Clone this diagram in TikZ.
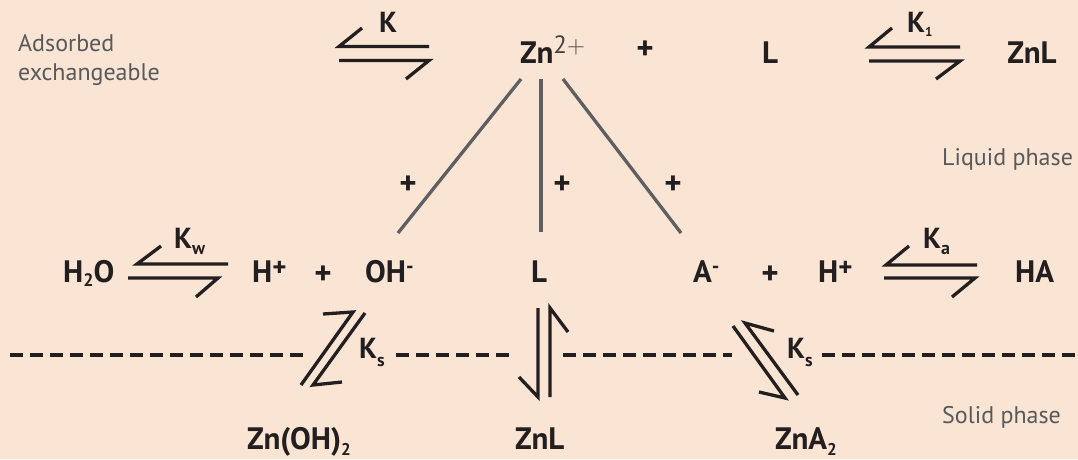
\documentclass[tikz,border=0pt]{standalone}
\usepackage{fontspec}
\setmainfont{PT Sans}
\definecolor{bgc}{RGB}{250,228,212}
\definecolor{ink}{RGB}{35,31,32}
\definecolor{soft}{RGB}{88,89,91}
\definecolor{bond}{RGB}{95,95,98}
\newcommand\lowr[3]{\raisebox{-#1pt}{\fontsize{#2}{#2}\selectfont #3}}
\newcommand\upr[3]{\raisebox{#1pt}{\fontsize{#2}{#2}\selectfont #3}}
\tikzset{
  lab/.style={font=\fontsize{31}{36}\selectfont\bfseries, text=ink, inner sep=0, anchor=base west},
  klab/.style={font=\fontsize{29}{34}\selectfont\bfseries, text=ink, inner sep=0, anchor=base west},
  plus/.style={font=\fontsize{33}{36}\selectfont\bfseries, text=ink, inner sep=0, anchor=center},
  note/.style={font=\fontsize{24}{29}\selectfont, text=soft, inner sep=0, anchor=base west},
  harp/.style={draw=ink, line width=3.3pt, line cap=butt, line join=miter},
  bondline/.style={draw=bond, line width=3.3pt},
  phaseline/.style={draw=ink, line width=3.8pt, dash pattern=on 12.5pt off 7.5pt}
}
\begin{document}
\begin{tikzpicture}[x=1pt,y=-1pt]
\useasboundingbox (0,0) rectangle (1078,459);
\fill[bgc] (0,0) rectangle (1078,459);

% notes
\node[note] (ads1) at (18,51) {Adsorbed};
\node[note] (ads2) at (18,80) {exchangeable};
\node[note] (liq) at (942,165) {Liquid phase};
\node[note] (sol) at (942,423) {Solid phase};

% top row
\node[lab] (zn) at (520,63) {Zn\upr{10}{25}{\mdseries\color{ink!85}$\mathrm{2+}$}};
\node[plus] (p1) at (645,50) {+};
\node[lab, anchor=base] (L1) at (770,63) {L};
\node[lab, anchor=base] (znl1) at (1032,63) {ZnL};
\node[klab] (K) at (379,32) {K};
\node[klab] (K1) at (907,32) {K\lowr{4}{13}{1}};

% top harpoons
\draw[harp] (362,28) -- (339,46.5) -- (429,46.5);
\draw[harp] (339,60.5) -- (429,60.5) -- (406,79);
\draw[harp] (892,28) -- (869,47) -- (960,47);
\draw[harp] (869,61) -- (960,61) -- (936,79);

% middle row
\node[lab] (h2o) at (63,282) {H\lowr{4}{18}{2}O};
\node[lab] (hp1) at (252,282) {H\upr{6}{27}{+}};
\node[plus] (p2) at (323,275) {+};
\node[lab] (oh) at (365,282) {OH\upr{9}{21}{-}};
\node[lab, anchor=base] (L2) at (539,282) {L};
\node[lab] (am) at (693,282) {A\upr{9}{21}{-}};
\node[plus] (p3) at (770,275) {+};
\node[lab] (hp2) at (818,282) {H\upr{6}{27}{+}};
\node[lab] (ha) at (1015,282) {HA};
\node[klab] (Kw) at (174,248) {K\lowr{6}{18}{w}};
\node[klab] (Ka) at (923,248) {K\lowr{6}{18}{a}};

% middle harpoons
\draw[harp] (161,246) -- (137,264) -- (228,264);
\draw[harp] (128,278) -- (218,278) -- (196,297);
\draw[harp] (909,246) -- (886,265) -- (977,265);
\draw[harp] (884,278) -- (975,278) -- (952,297);

% bonds from Zn2+
\coordinate (b1s) at (521,79); \coordinate (b1e) at (398,233);
\coordinate (b2s) at (541,79); \coordinate (b2e) at (541,232);
\coordinate (b3s) at (563,79); \coordinate (b3e) at (681,233);
\draw[bondline] (b1s) -- (b1e);
\draw[bondline] (b2s) -- (b2e);
\draw[bondline] (b3s) -- (b3e);
\node[plus] (pa) at (408,185) {+};
\node[plus] (pb) at (562,185) {+};
\node[plus] (pc) at (673,185) {+};

% phase boundary
\draw[phaseline] (10,355) -- (305,355);
\draw[phaseline] (396,355) -- (515,355);
\draw[phaseline] (563,355) -- (732,355);
\draw[phaseline] (822,355) -- (1078,355);

% solubility harpoons
\draw[harp] (323,314) -- (353,312) -- (301,385);
\draw[harp] (365,313) -- (313,385) -- (342,382);
\node[klab] (Ks1) at (359,358) {K\lowr{8}{18}{s}};

\draw[harp] (538,308) -- (538,397) -- (519,377);
\draw[harp] (568,332) -- (550,308) -- (550,397);

\draw[harp] (733,326) -- (785,398) -- (759,392);
\draw[harp] (798,395) -- (745,323) -- (774,331);
\node[klab] (Ks2) at (787,358) {K\lowr{8}{18}{s}};

% bottom row
\node[lab] (znoh) at (247,449) {Zn(OH)\lowr{6}{17}{2}};
\node[lab] (znl2) at (515,449) {ZnL};
\node[lab] (zna) at (775,449) {ZnA\lowr{6}{17}{2}};
\end{tikzpicture}
\end{document}
